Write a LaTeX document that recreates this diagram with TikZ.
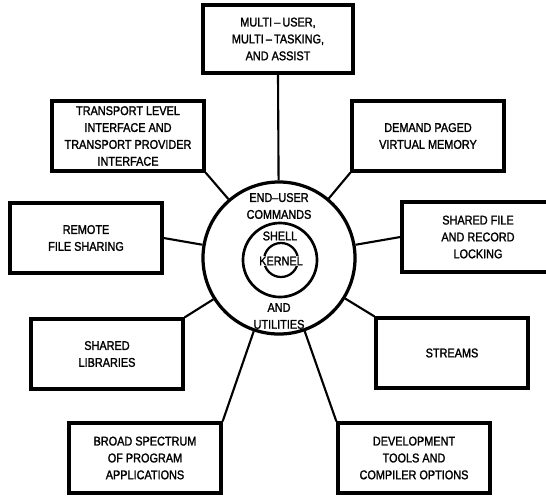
\documentclass[tikz,border=0pt]{standalone}
\usepackage{fontspec}
\setmainfont{Liberation Sans}[FakeStretch=0.86,FakeBold=1.6]
\usepackage{tikz}
\usetikzlibrary{positioning,calc}

\begin{document}
\begin{tikzpicture}[x=0.025cm,y=-0.025cm,
    featbox/.style={draw,line width=2.3pt,minimum width=3.8cm,minimum height=1.75cm,
      align=center,inner sep=1pt,font=\fontsize{9}{12}\selectfont},
    link/.style={line width=1.5pt},
    ringtxt/.style={align=center,inner sep=0pt,font=\fontsize{9}{12}\selectfont}]
  \useasboundingbox (0,0) rectangle (546,496);
  % core of the system
  \node[circle,draw,line width=2.3pt,minimum size=3.8cm,inner sep=0pt] (ring) at (279,258) {};
  \node[circle,draw,line width=1.9pt,minimum size=1.85cm,inner sep=0pt] (shell) at (280,260) {};
  \node[circle,draw,line width=1.6pt,minimum size=0.85cm,inner sep=0pt] (kern) at (281,260) {};
  \node[ringtxt,fill=white,inner sep=0.6pt] (kerntxt) at (281,261) {KERNEL};
  \node[ringtxt] (shelltxt) at (280,236) {SHELL};
  \node[ringtxt] (eutxt) at (279,206) {END--USER\\COMMANDS};
  \node[ringtxt] (utiltxt) at (279,316) {AND\\UTILITIES};
  % features round it
  \node[featbox,minimum width=3.75cm,minimum height=1.7cm] (mtbox) at (278,39)
    {MULTI\,--\,USER,\\MULTI\,--\,TASKING,\\AND ASSIST};
  \node[featbox] (tlibox) at (128,136)
    {TRANSPORT LEVEL\\INTERFACE AND\\TRANSPORT PROVIDER\\INTERFACE};
  \node[featbox] (dpbox) at (428,136) {DEMAND PAGED\\VIRTUAL MEMORY};
  \node[featbox] (rfsbox) at (86,238) {REMOTE\\FILE SHARING};
  \node[featbox] (sfbox) at (478,237) {SHARED FILE\\AND RECORD\\LOCKING};
  \node[featbox] (slbox) at (107,354) {SHARED\\LIBRARIES};
  \node[featbox] (strbox) at (452,353) {STREAMS};
  \node[featbox] (bsbox) at (145,458) {BROAD SPECTRUM\\OF PROGRAM\\APPLICATIONS};
  \node[featbox] (dtbox) at (414,458) {DEVELOPMENT\\TOOLS AND\\COMPILER OPTIONS};
  \draw[link] (mtbox.south) -- (ring);
  \draw[link] (tlibox.south east) -- (ring);
  \draw[link] (dpbox.south west) -- (ring);
  \draw[link] (rfsbox.east) -- (ring);
  \draw[link] (sfbox.west) -- (ring);
  \draw[link] (slbox.north east) -- (ring);
  \draw[link] (strbox.north west) -- (ring);
  \draw[link] (bsbox.north east) -- (ring);
  \draw[link] (dtbox.north west) -- (ring);
\end{tikzpicture}
\end{document}
